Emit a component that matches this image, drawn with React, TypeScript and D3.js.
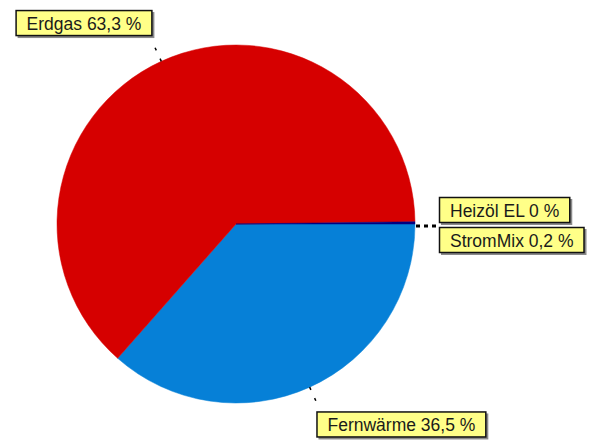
import React, { useEffect, useRef } from "react";
import * as d3 from "d3";

const categories = ["Fernwärme", "Erdgas", "Heizöl EL", "StromMix"];
const values = [36.5, 63.3, 0, 0.2];
const valueLabels = ["36,5", "63,3", "0", "0,2"];
const colors = ["#0680D7", "#D60000", "#7a7a00", "#000080"];

const W = 589;
const H = 443;

export default function App() {
  const ref = useRef<SVGSVGElement | null>(null);

  useEffect(() => {
    const svg = d3.select(ref.current);
    svg.selectAll("*").remove();
    const cx = 236, cy = 224, r = 179;
    const g = svg.append("g").attr("transform", `translate(${cx},${cy})`);

    const data = categories.map((c, i) => ({ c, v: values[i], lab: valueLabels[i], col: colors[i] }));
    const pie = d3.pie<any>().value((d: any) => d.v).sort(null)
      .startAngle(Math.PI / 2).endAngle(Math.PI / 2 + 2 * Math.PI);
    const arcs = pie(data);
    const arc = d3.arc<any>().innerRadius(0).outerRadius(r);

    g.selectAll("path.slice").data(arcs.filter((a) => a.data.v > 0)).enter()
      .append("path").attr("class", "slice")
      .attr("d", arc as any).attr("fill", (d: any) => d.data.col)
      .attr("stroke", (d: any) => d.data.col).attr("stroke-width", 0.5);

    const font = "'Liberation Sans', Arial, sans-serif";
    const fs = 17.5;
    const drawBox = (text: string, x: number, y: number, anchor: "tl" | "br" | "bl") => {
      const t = svg.append("text").attr("font-family", font).attr("font-size", fs).text(text);
      const w = (t.node() as SVGTextElement).getComputedTextLength() + 22;
      const h = 26;
      let bx = x, by = y;
      if (anchor === "br") { bx = x - w; by = y - h; }
      if (anchor === "bl") { by = y - h; }
      t.remove();
      const bg = svg.append("g");
      bg.append("rect").attr("x", bx + 2).attr("y", by + 2).attr("width", w).attr("height", h).attr("fill", "#8a8a8a");
      bg.append("rect").attr("x", bx + 0.5).attr("y", by + 0.5).attr("width", w - 1).attr("height", h - 1)
        .attr("fill", "#FFFF88").attr("stroke", "#111").attr("stroke-width", 1.5);
      bg.append("text").attr("x", bx + 11).attr("y", by + 19.5).attr("font-family", font)
        .attr("font-size", fs).attr("fill", "#1a1a1a").text(text);
    };

    const point = (ang: number, rad: number) => [cx + Math.sin(ang) * rad, cy - Math.cos(ang) * rad];

    arcs.forEach((a: any) => {
      const mid = (a.startAngle + a.endAngle) / 2;
      const label = `${a.data.c} ${a.data.lab} %`;
      if (a.data.c === "Erdgas" || a.data.c === "Fernwärme") {
        const [x1, y1] = point(mid, r);
        const [x2, y2] = point(mid, r + 19);
        svg.append("line").attr("x1", x1).attr("y1", y1).attr("x2", x2).attr("y2", y2)
          .attr("stroke", "#000").attr("stroke-width", 1.5).attr("stroke-dasharray", "3,9");
        if (a.data.c === "Erdgas") drawBox(label, x2 - 1, y2 - 8, "br");
        else drawBox(label, x2 - 1, y2 + 7, "tl");
      }
    });

    // small slices near 3 o'clock
    const ex = cx + r;
    svg.append("line").attr("x1", ex + 1).attr("y1", cy + 2).attr("x2", ex + 23).attr("y2", cy + 2)
      .attr("stroke", "#000").attr("stroke-width", 3).attr("stroke-dasharray", "4,4");
    const heiz = arcs[2], strom = arcs[3];
    drawBox(`${heiz.data.c} ${heiz.data.lab} %`, ex + 24, cy - 1, "bl");
    drawBox(`${strom.data.c} ${strom.data.lab} %`, ex + 24, cy + 3, "tl");
  }, []);

  return (
    <svg ref={ref} width={W} height={H}
      style={{ position: "absolute", left: 0, top: 0, background: "#fff" }} />
  );
}
